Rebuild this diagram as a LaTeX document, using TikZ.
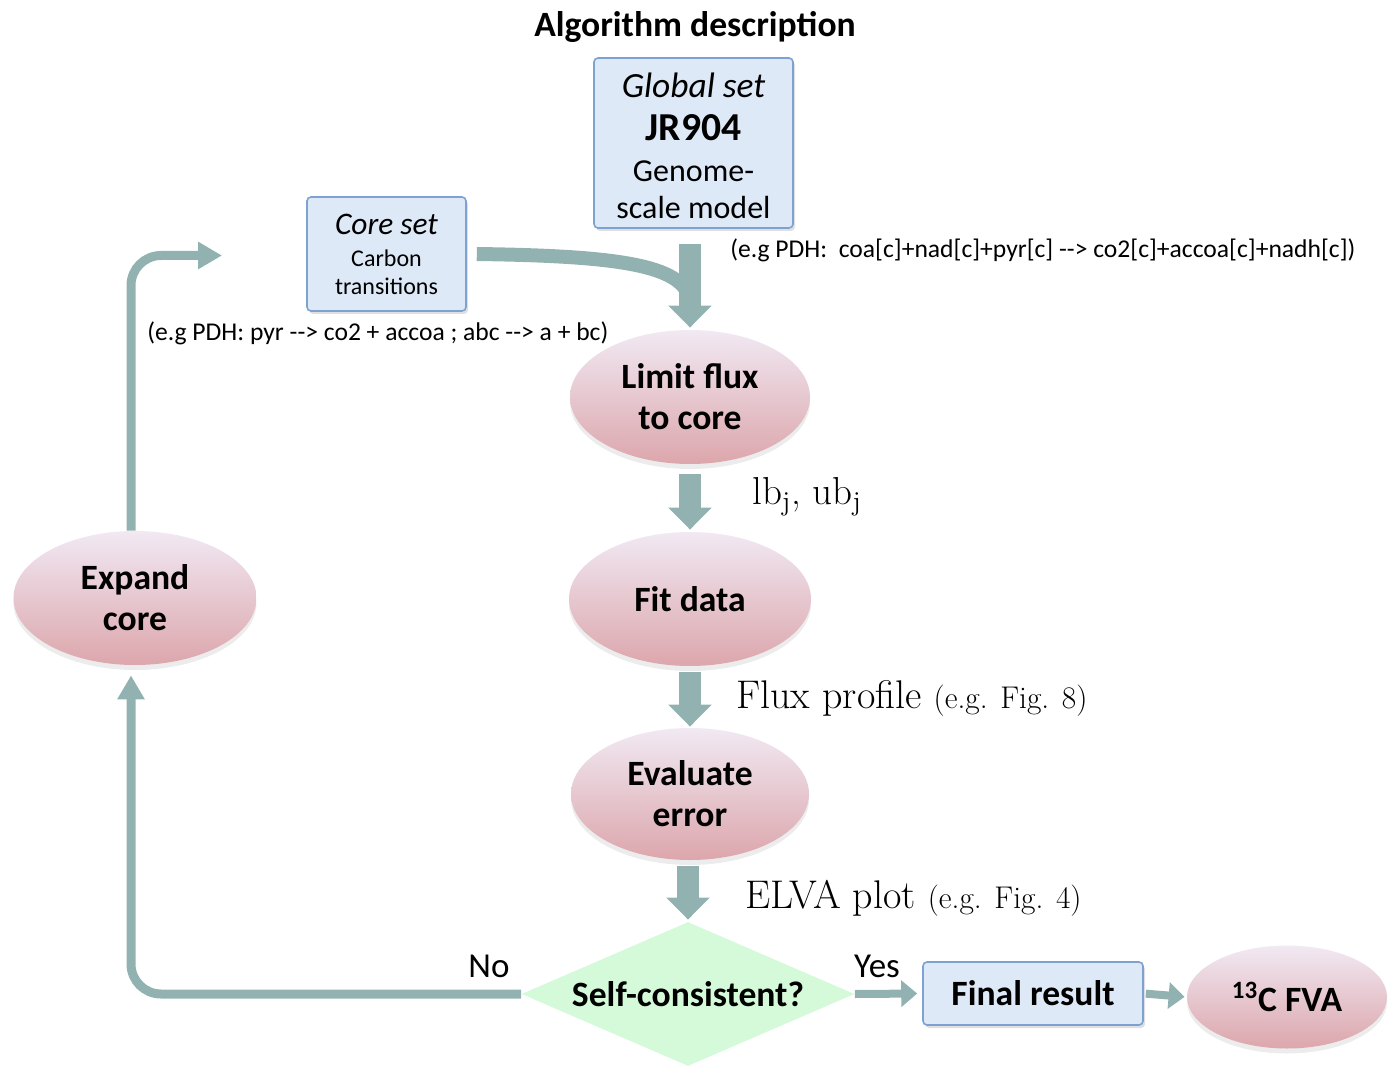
\documentclass[tikz,border=0pt]{standalone}
\usepackage{fontspec}
\newfontfamily\calibri{Carlito}
\usetikzlibrary{arrows.meta}
\usetikzlibrary{shapes.geometric}
\usetikzlibrary{shadows}
\definecolor{arrowteal}{RGB}{146,178,177}
\definecolor{boxfill}{RGB}{221,233,246}
\definecolor{boxline}{RGB}{125,162,210}
\definecolor{ovaltop}{RGB}{241,233,243}
\definecolor{ovalbot}{RGB}{220,166,172}
\definecolor{diamondfill}{RGB}{213,250,218}

\begin{document}
\begin{tikzpicture}[x=0.5pt,y=-0.5pt,
    oval/.style={ellipse,inner sep=0pt,top color=ovaltop,bottom color=ovalbot,
      drop shadow={shadow xshift=0pt,shadow yshift=-2.5pt,opacity=0.15},
      font=\calibri\bfseries\fontsize{17.8}{20.5}\selectfont,align=center},
    setbox/.style={rectangle,draw=boxline,line width=0.8pt,fill=boxfill,rounded corners=2pt,
      drop shadow={shadow xshift=1pt,shadow yshift=-1.5pt,opacity=0.25},align=center,inner sep=0pt},
    bigarrow/.style={draw=arrowteal,line width=11pt,-{Triangle[length=11pt,width=21pt]}},
    looparrow/.style={draw=arrowteal,line width=4.5pt,rounded corners=15pt,-{Triangle[length=12pt,width=13pt]}},
    thinarrow/.style={draw=arrowteal,line width=4pt,-{Triangle[length=8pt,width=13pt]}},
    note/.style={font=\calibri\fontsize{12.8}{15}\selectfont,anchor=west,inner sep=0pt},
    serifnote/.style={font=\fontsize{20}{22}\selectfont,anchor=west,inner sep=0pt}]
  \useasboundingbox (0,0) rectangle (1390,1068);
  \node[font=\calibri\bfseries\fontsize{17.8}{20}\selectfont] (title) at (695,27) {Algorithm description};
  % input sets
  \node[setbox,minimum width=99.5pt,minimum height=85pt,font=\calibri\fontsize{16}{18.5}\selectfont] (global) at (693.5,143)
    {\rule{0pt}{15pt}{\itshape\fontsize{17.7}{19}\selectfont Global set}\\[3pt]{\bfseries\fontsize{19.8}{22}\selectfont JR904}\\[2pt]Genome-\\scale model};
  \node[setbox,minimum width=79.5pt,minimum height=57pt,font=\calibri\fontsize{12}{14}\selectfont] (core) at (386.5,254)
    {{\itshape\fontsize{15.7}{16}\selectfont Core set}\\[2pt]Carbon\\transitions};
  \node[note] (globalnote) at (730,250) {(e.g PDH:\ \ coa[c]+nad[c]+pyr[c] -{}-> co2[c]+accoa[c]+nadh[c])};
  \node[note] (corenote) at (147,333) {(e.g PDH: pyr -{}-> co2 + accoa ; abc -{}-> a + bc)};
  % main column
  \node[oval,minimum width=120pt,minimum height=67pt] (limit) at (690,397) {Limit flux\\to core};
  \node[oval,minimum width=121pt,minimum height=67pt] (fit) at (690,599) {Fit data};
  \node[oval,minimum width=119pt,minimum height=66pt] (evaluate) at (690,794) {Evaluate\\error};
  \node[diamond,fill=diamondfill,inner sep=0pt,aspect=2.3,minimum width=166.5pt,minimum height=72pt,
    font=\calibri\bfseries\fontsize{17.8}{20}\selectfont] (check) at (688,994) {Self-consistent?};
  \node[setbox,minimum width=110pt,minimum height=31.5pt,font=\calibri\bfseries\fontsize{17.8}{20}\selectfont] (final) at (1033,993.5) {Final result};
  \node[oval,minimum width=100pt,minimum height=51.5pt] (fva) at (1287,997) {\textsuperscript{13}C FVA};
  \node[oval,minimum width=121.5pt,minimum height=67pt] (expand) at (135,598) {Expand\\core};
  % labels
  \node[serifnote,font=\fontsize{19.5}{22}\selectfont] (boundsnote) at (752,497) {lb\textsubscript{j}, ub\textsubscript{j}};
  \node[serifnote] (profilenote) at (736,698) {Flux profile {\fontsize{15.7}{18}\selectfont(e.g. Fig. 8)}};
  \node[serifnote] (elvanote) at (745,898) {ELVA plot {\fontsize{15.7}{18}\selectfont(e.g. Fig. 4)}};
  \node[font=\calibri\fontsize{17.5}{19}\selectfont] (nolabel) at (489,966) {No};
  \node[font=\calibri\fontsize{17.5}{19}\selectfont] (yeslabel) at (877,966) {Yes};
  % connectors
  \coordinate (merge) at (690,305);
  \draw[draw=arrowteal,line width=7pt] ([xshift=5pt]core.east) .. controls (620,256) and (690,265) .. (merge);
  \draw[bigarrow,shorten <=7.5pt,shorten >=1pt] (limit.north |- global.south) -- (limit.north);
  \draw[bigarrow,shorten <=5pt,shorten >=1pt] (limit.south) -- (fit.north);
  \draw[bigarrow,shorten <=3pt,shorten >=0.5pt] (fit.south) -- (evaluate.north);
  \draw[bigarrow,shorten <=3pt,shorten >=1pt] (evaluate.south -| check.north) -- (check.north);
  \draw[thinarrow,shorten >=2.5pt] (check.east) -- (final.west);
  \draw[thinarrow,shorten <=1pt,shorten >=1pt] (final.east) -- (fva.west);
  \coordinate (loopcorner) at (131,994);
  \coordinate (reentry) at (222,255.5);
  \draw[looparrow,shorten >=5pt] (check.west) -- (loopcorner) -- ([xshift=-2pt]expand.south);
  \draw[looparrow] ([xshift=-2pt]expand.north) -- ([xshift=-2pt]expand.north |- reentry) -- (reentry);
\end{tikzpicture}
\end{document}
